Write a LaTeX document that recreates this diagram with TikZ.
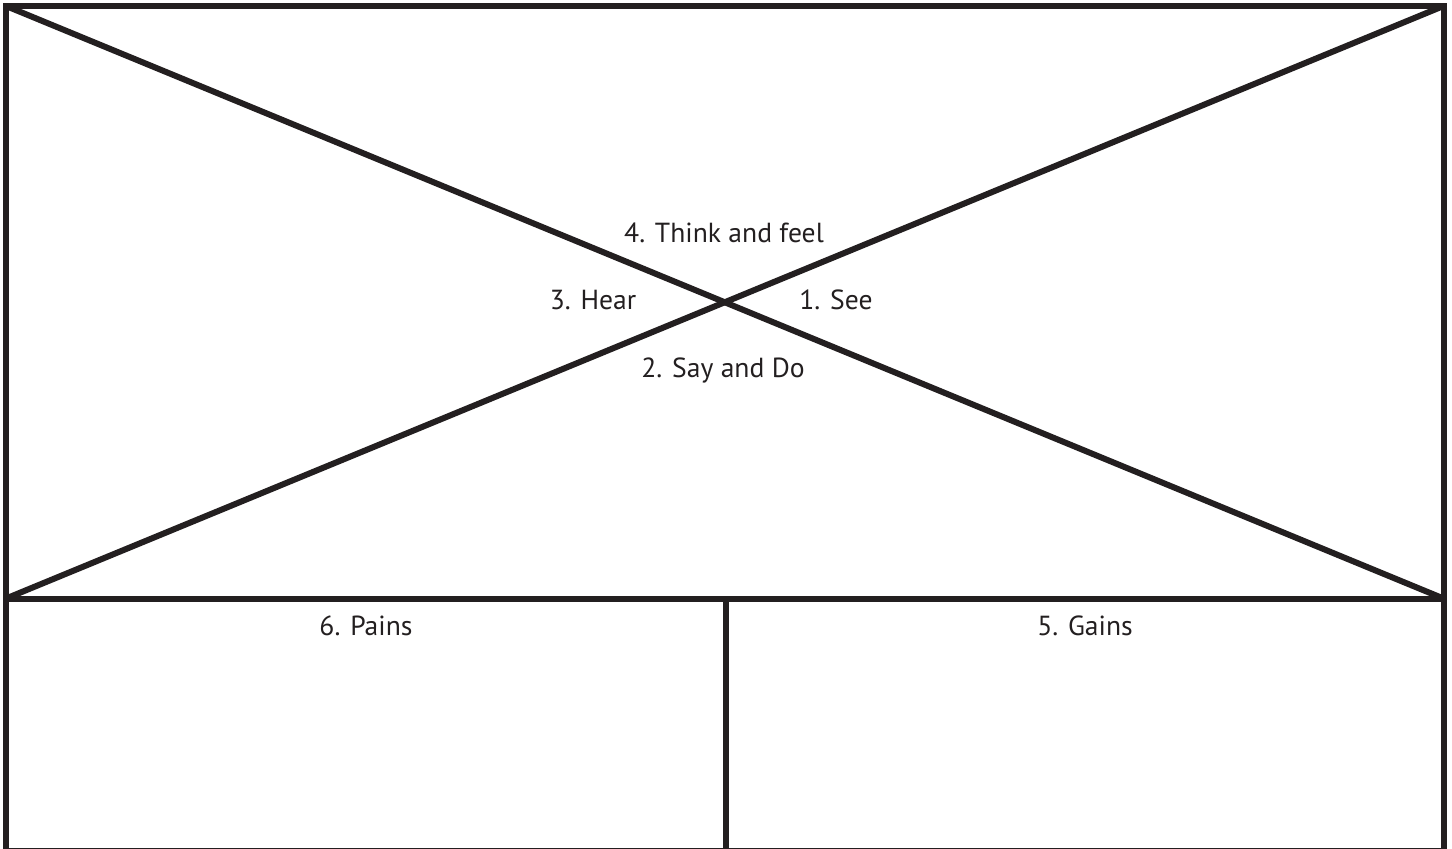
\documentclass[tikz,border=0pt]{standalone}
\usepackage{fontspec}
\setmainfont{PT Sans}
\definecolor{ink}{HTML}{231F20}
\begin{document}
\begin{tikzpicture}[x=0.5pt, y=-0.5pt, line width=3pt,
    lab/.style={font=\fontsize{13.8}{16}\selectfont, anchor=base, inner sep=0pt, text=ink}]
    % 定义边框位置
    \def\L{6}       % 左边
    \def\R{1443.5}  % 右边
    \def\T{6}       % 上边
    \def\M{598.5}   % 分隔线
    \def\B{850.5}   % 下边
    \def\C{726}     % 中间竖线

    % 固定画布大小
    \useasboundingbox (0,0) rectangle (1452,848);
    \clip (0,0) rectangle (1452,848);

    % 角点
    \coordinate (tl) at (\L,\T);
    \coordinate (tr) at (\R,\T);
    \coordinate (ml) at (\L,\M);
    \coordinate (mr) at (\R,\M);
    \coordinate (bl) at (\L,\B);
    \coordinate (br) at (\R,\B);
    \coordinate (mc) at (\C,\M);
    \coordinate (bc) at (\C,\B);

    % 外框与分隔线
    \draw[ink] (tl) rectangle (br);
    \draw[ink] (ml) -- (mr);
    \draw[ink] (mc) -- (bc);

    % 对角线
    \draw[ink] (tl) -- (mr);
    \draw[ink] (ml) -- (tr);

    % 各区域标签
    \node[lab] (think) at (724,242) {4. Think and feel};
    \node[lab] (hear)  at (593,309) {3. Hear};
    \node[lab] (see)   at (836,309) {1. See};
    \node[lab] (say)   at (723,377) {2. Say and Do};
    \node[lab] (pains) at (366,635) {6. Pains};
    \node[lab] (gains) at (1085,635) {5. Gains};
\end{tikzpicture}
\end{document}
